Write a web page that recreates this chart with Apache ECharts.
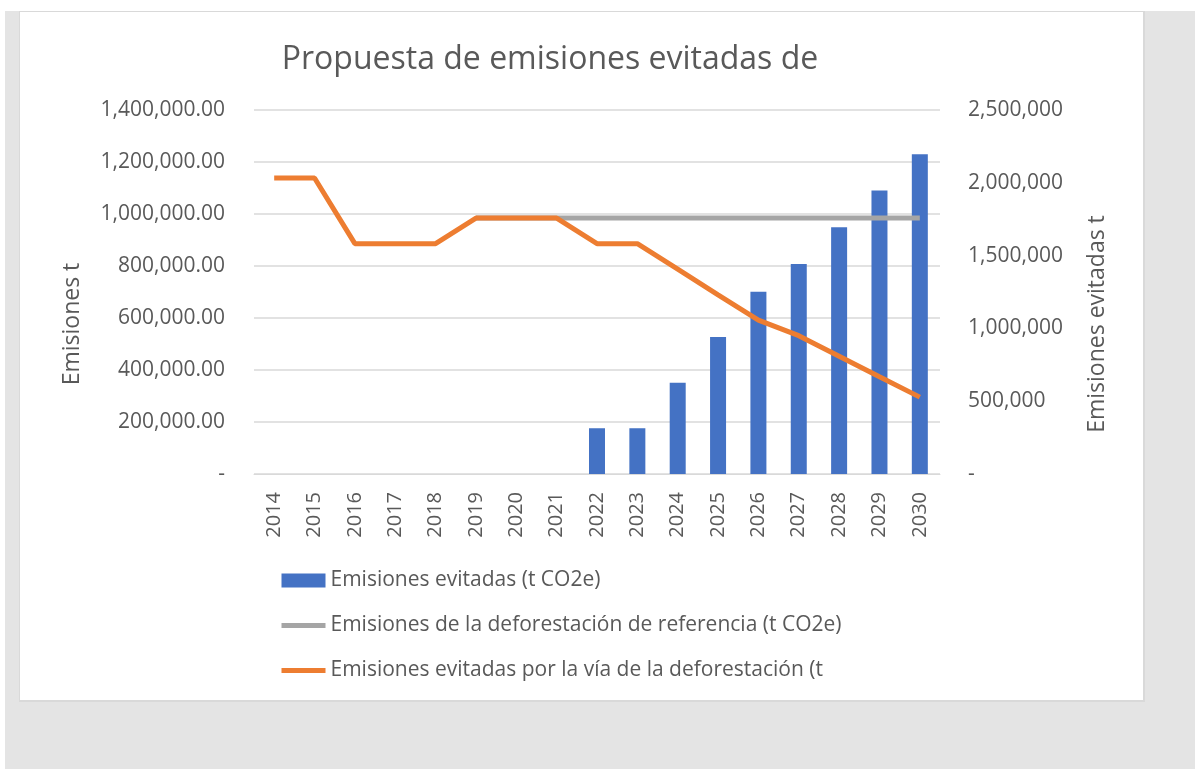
<!DOCTYPE html>
<html lang="es">

<head>
    <meta charset="UTF-8">
    <title>Propuesta de emisiones evitadas</title>
    <script src="https://cdn.jsdelivr.net/npm/echarts@6/dist/echarts.min.js"></script>
    <style>
        html, body {
            margin: 0;
            height: 100%;
            background: #ffffff;
            overflow: hidden;
        }

        #back {
            position: absolute;
            left: 5px;
            top: 11px;
            right: 0;
            bottom: 0;
            background: #e4e4e4;
        }

        #panel {
            position: absolute;
            left: 19px;
            top: 11px;
            width: 1123px;
            height: 688px;
            background: #ffffff;
            border: 1px solid #d9d9d9;
            border-right-width: 2px;
            border-bottom-width: 2px;
        }

        #main {
            position: absolute;
            left: 0;
            top: 0;
            width: 1195px;
            height: 769px;
        }
    </style>
</head>

<body>
    <div id="back"></div>
    <div id="panel"></div>
    <div id="main"></div>
    <script>
        var years = ['2014', '2015', '2016', '2017', '2018', '2019', '2020', '2021', '2022',
            '2023', '2024', '2025', '2026', '2027', '2028', '2029', '2030'];
        // barras en el eje izquierdo (t)
        var evitadas = [0, 0, 0, 0, 0, 0, 0, 0, 176000, 176000, 351000, 527000, 701000,
            808000, 949000, 1090000, 1230000];
        // lineas en el eje derecho
        var referencia = [null, null, null, null, null, 1758000, 1758000, 1758000, 1758000,
            1758000, 1758000, 1758000, 1758000, 1758000, 1758000, 1758000, 1758000];
        var viaDeforestacion = [2033000, 2033000, 1582000, 1582000, 1582000, 1758000, 1758000,
            1758000, 1582000, 1582000, 1407000, 1231000, 1057000, 950000, 809000, 668000, 528000];

        var txt = '#595959';
        var fam = '"Open Sans", sans-serif';

        function fmt(v, dec) {
            if (v === 0) return '-';
            return v.toLocaleString('en-US', { minimumFractionDigits: dec, maximumFractionDigits: dec });
        }

        var chart = echarts.init(document.getElementById('main'));
        chart.setOption({
            backgroundColor: 'transparent',
            animation: false,
            textStyle: { fontFamily: fam, color: txt },
            title: {
                text: 'Propuesta de emisiones evitadas de',
                left: 545,
                top: 39,
                textAlign: 'center',
                textStyle: { fontFamily: fam, fontSize: 32, fontWeight: 'normal', color: txt }
            },
            grid: { left: 254, right: 255, top: 110, bottom: 295 },
            legend: {
                orient: 'vertical',
                left: 274,
                top: 565,
                itemWidth: 44,
                itemHeight: 14,
                itemGap: 24,
                textStyle: { fontFamily: fam, fontSize: 21, color: txt },
                data: [
                    { name: 'Emisiones evitadas (t CO2e)', icon: 'rect' },
                    { name: 'Emisiones de la deforestación de referencia (t CO2e)', itemStyle: { opacity: 0 }, lineStyle: { width: 5 } },
                    { name: 'Emisiones evitadas por la vía de la deforestación (t', itemStyle: { opacity: 0 }, lineStyle: { width: 5 } }
                ]
            },
            xAxis: {
                type: 'category',
                data: years,
                axisLine: { lineStyle: { color: '#d9d9d9', width: 1 } },
                axisTick: { show: false },
                axisLabel: { rotate: 90, margin: 18, fontSize: 20, color: txt, fontFamily: fam }
            },
            yAxis: [{
                type: 'value',
                min: 0,
                max: 1400000,
                interval: 200000,
                name: 'Emisiones t',
                nameLocation: 'middle',
                nameRotate: 90,
                nameGap: 170,
                nameTextStyle: { fontSize: 23, color: txt, fontFamily: fam, padding: [0, 64, 0, 0] },
                axisLabel: { margin: 29, fontSize: 21, color: txt, fontFamily: fam, formatter: function (v) { return fmt(v, 2); } },
                splitLine: { lineStyle: { color: '#d9d9d9', width: 1.5 } },
                axisLine: { show: false },
                axisTick: { show: false }
            }, {
                type: 'value',
                min: 0,
                max: 2500000,
                interval: 500000,
                name: 'Emisiones evitadas t',
                nameLocation: 'middle',
                nameRotate: 90,
                nameGap: 146,
                nameTextStyle: { fontSize: 23, color: txt, fontFamily: fam, padding: [0, 64, 0, 0] },
                axisLabel: { margin: 28, fontSize: 21, color: txt, fontFamily: fam, formatter: function (v) { return fmt(v, 0); } },
                splitLine: { show: false },
                axisLine: { show: false },
                axisTick: { show: false }
            }],
            series: [{
                name: 'Emisiones evitadas (t CO2e)',
                type: 'bar',
                yAxisIndex: 0,
                data: evitadas,
                barWidth: 16,
                itemStyle: { color: '#4472c4' }
            }, {
                name: 'Emisiones de la deforestación de referencia (t CO2e)',
                type: 'line',
                yAxisIndex: 1,
                data: referencia,
                symbol: 'none',
                lineStyle: { color: '#a5a5a5', width: 5, cap: 'butt' },
                itemStyle: { color: '#a5a5a5' }
            }, {
                name: 'Emisiones evitadas por la vía de la deforestación (t',
                type: 'line',
                yAxisIndex: 1,
                data: viaDeforestacion,
                symbol: 'none',
                lineStyle: { color: '#ed7d31', width: 5, cap: 'butt' },
                itemStyle: { color: '#ed7d31' }
            }]
        });
    </script>
</body>

</html>
